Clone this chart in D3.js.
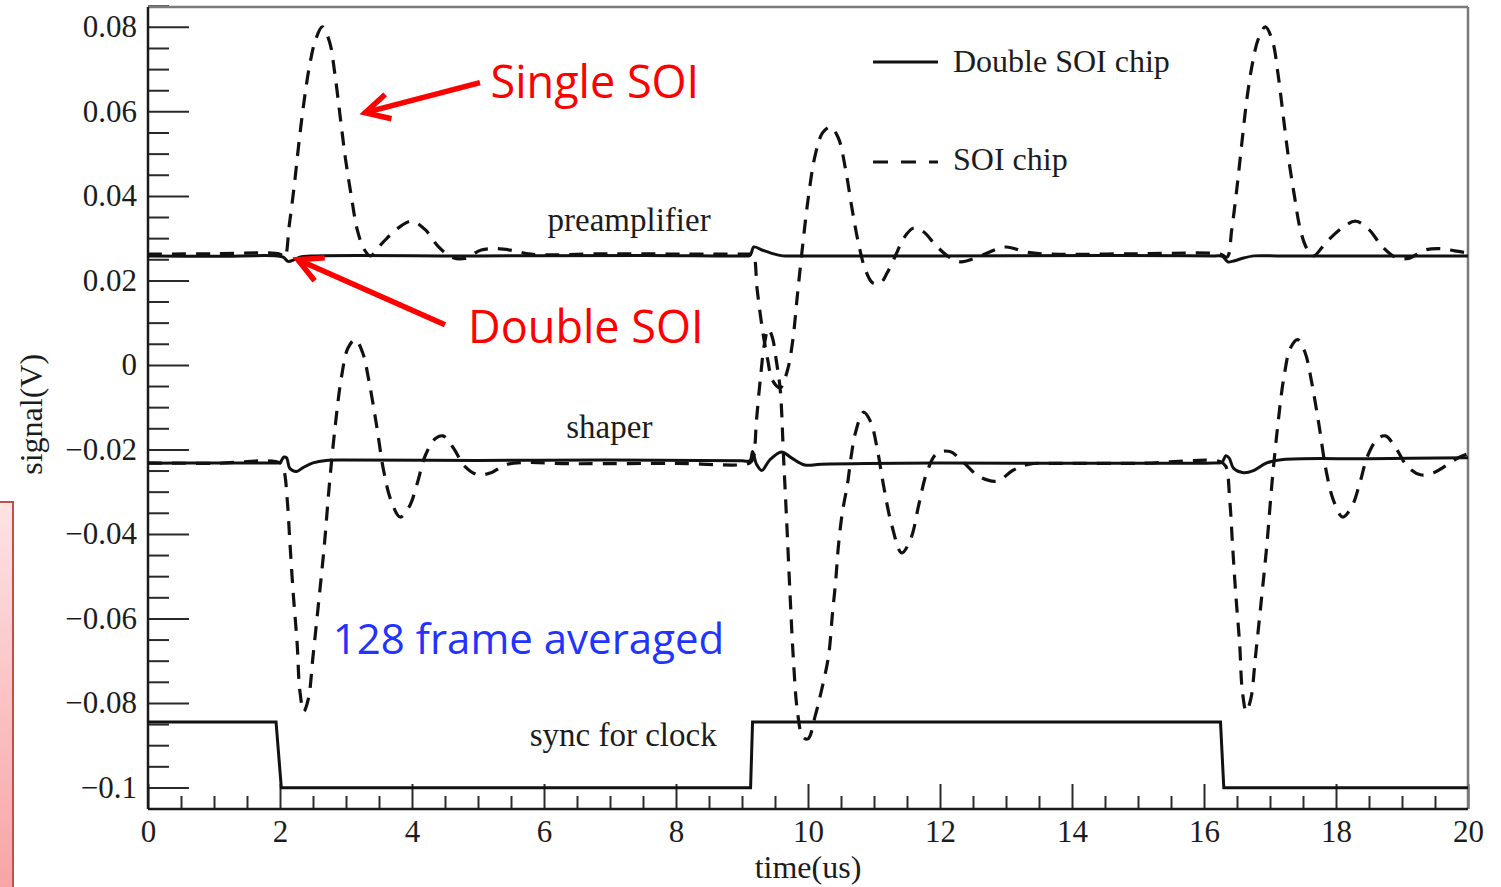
<!DOCTYPE html>
<html>
<head>
<meta charset="utf-8">
<script src="https://cdn.jsdelivr.net/npm/d3@7"></script>
<style>
  html, body { margin: 0; padding: 0; background: #fff; }
  svg { display: block; }
  .serif { font-family: "Liberation Serif", "DejaVu Serif", serif; fill: #1c1c1c; }
</style>
</head>
<body>
<div id="chart"></div>
<script>
// ---- data: [time (us), signal (V)] ----
const soiPreamp = [
  [0, 0.0262], [1.0, 0.0263], [2.0, 0.0262],
  [2.07, 0.0255], [2.14, 0.033], [2.22, 0.043], [2.29, 0.053], [2.37, 0.063], [2.45, 0.071],
  [2.54, 0.077], [2.64, 0.080], [2.75, 0.0765], [2.83, 0.069], [2.91, 0.059], [2.99, 0.049],
  [3.08, 0.040], [3.17, 0.032], [3.27, 0.0275], [3.37, 0.0258], [3.56, 0.029], [3.8, 0.0325],
  [4.0, 0.034], [4.2, 0.032], [4.4, 0.028], [4.6, 0.0255], [4.8, 0.0252], [5.05, 0.0272],
  [5.3, 0.0275], [5.55, 0.027], [5.8, 0.0262], [7.0, 0.0263], [8.5, 0.0262], [9.12, 0.0262],
  [9.17, 0.0262], [9.23, 0.0178], [9.31, 0.0083], [9.39, 0.0012], [9.46, -0.0036], [9.58, -0.0054],
  [9.69, -0.0012], [9.77, 0.0059], [9.84, 0.0166], [9.92, 0.0284], [10.01, 0.0402], [10.11, 0.0497],
  [10.22, 0.0549], [10.34, 0.0563], [10.46, 0.0537], [10.57, 0.0462], [10.67, 0.0367], [10.77, 0.0284],
  [10.87, 0.0225], [10.98, 0.0194], [11.1, 0.0194], [11.2, 0.0218], [11.33, 0.026], [11.45, 0.030],
  [11.6, 0.0324], [11.75, 0.0315], [11.93, 0.0284], [12.13, 0.0256], [12.31, 0.0244], [12.54, 0.0253],
  [12.99, 0.0279], [13.3, 0.0267], [13.7, 0.0262], [15.0, 0.0263], [16.25, 0.0262],
  [16.35, 0.0255], [16.42, 0.032], [16.5, 0.042], [16.57, 0.052], [16.65, 0.063], [16.73, 0.071],
  [16.82, 0.077], [16.93, 0.080], [17.04, 0.0765], [17.12, 0.069], [17.2, 0.059], [17.28, 0.049],
  [17.37, 0.040], [17.46, 0.032], [17.56, 0.0275], [17.66, 0.0258], [17.85, 0.029], [18.1, 0.0325],
  [18.3, 0.034], [18.5, 0.032], [18.7, 0.028], [18.9, 0.0255], [19.1, 0.0252], [19.35, 0.0272],
  [19.6, 0.0275], [19.8, 0.027], [20, 0.0265]
];

const soiShaper = [
  [0, -0.0232], [1.0, -0.0233], [2.0, -0.0232],
  [2.06, -0.025], [2.11, -0.032], [2.15, -0.042], [2.2, -0.054], [2.26, -0.066], [2.3, -0.077],
  [2.36, -0.082], [2.43, -0.079], [2.5, -0.069], [2.58, -0.057], [2.67, -0.043], [2.75, -0.028],
  [2.84, -0.014], [2.93, -0.003], [3.03, 0.004], [3.14, 0.006], [3.25, 0.003], [3.35, -0.004],
  [3.46, -0.014], [3.57, -0.025], [3.68, -0.032], [3.82, -0.036], [3.96, -0.0335], [4.08, -0.028],
  [4.2, -0.0215], [4.35, -0.0175], [4.47, -0.0168], [4.62, -0.0195], [4.8, -0.024], [5.0, -0.026],
  [5.2, -0.0255], [5.45, -0.0235], [6.5, -0.0234], [8.0, -0.0233], [9.12, -0.0232],
  [9.17, -0.022], [9.22, -0.013], [9.28, -0.003], [9.34, 0.005], [9.40, 0.0085], [9.46, 0.0065],
  [9.52, 0.001], [9.58, -0.006], [9.63, -0.022], [9.68, -0.038], [9.73, -0.055], [9.78, -0.070],
  [9.84, -0.082], [9.92, -0.088], [10.0, -0.0885], [10.11, -0.083], [10.19, -0.078], [10.31, -0.069],
  [10.37, -0.059], [10.42, -0.051], [10.46, -0.043], [10.52, -0.035], [10.6, -0.028], [10.66, -0.021],
  [10.72, -0.016], [10.84, -0.0112], [10.95, -0.0135], [11.05, -0.020], [11.15, -0.029], [11.27, -0.038],
  [11.42, -0.0445], [11.56, -0.041], [11.68, -0.033], [11.8, -0.0255], [11.95, -0.021], [12.15, -0.0205],
  [12.35, -0.023], [12.6, -0.0265], [12.87, -0.0275], [13.1, -0.025], [13.35, -0.0235], [13.8, -0.0233],
  [15.0, -0.0233], [16.25, -0.0229],
  [16.33, -0.024], [16.39, -0.032], [16.43, -0.042], [16.48, -0.054], [16.54, -0.066], [16.58, -0.077],
  [16.64, -0.082], [16.71, -0.079], [16.78, -0.069], [16.86, -0.057], [16.95, -0.043], [17.03, -0.028],
  [17.12, -0.014], [17.21, -0.003], [17.31, 0.004], [17.42, 0.006], [17.53, 0.003], [17.63, -0.004],
  [17.74, -0.014], [17.85, -0.025], [17.96, -0.032], [18.1, -0.036], [18.24, -0.0335], [18.36, -0.028],
  [18.48, -0.0215], [18.63, -0.0175], [18.75, -0.0168], [18.9, -0.0195], [19.08, -0.024], [19.28, -0.026],
  [19.48, -0.0255], [19.7, -0.0235], [19.85, -0.022], [20, -0.021]
];

const doublePreamp = [
  [0, 0.0258], [1.0, 0.0257], [1.95, 0.0258], [2.05, 0.0255], [2.12, 0.0245], [2.2, 0.0248],
  [2.3, 0.0255], [2.5, 0.0258], [5.0, 0.0258], [7.5, 0.0259], [9.0, 0.0258], [9.12, 0.0259], [9.18, 0.0279],
  [9.3, 0.0272], [9.45, 0.0264], [9.62, 0.0258], [9.9, 0.0258], [12.0, 0.0258], [14.5, 0.0259], [16.15, 0.0258],
  [16.28, 0.0257], [16.36, 0.0244], [16.45, 0.0246], [16.6, 0.0253], [16.76, 0.0258], [17.1, 0.0258],
  [18.5, 0.0258], [20, 0.0258]
];

const doubleShaper = [
  [0, -0.0233], [1.0, -0.0232], [1.95, -0.0232], [2.0, -0.0231], [2.06, -0.0218], [2.1, -0.022], [2.15, -0.0245],
  [2.25, -0.0252], [2.35, -0.0243], [2.5, -0.0232], [2.7, -0.0226], [3.0, -0.0225], [5.0, -0.0226],
  [7.0, -0.0225], [9.0, -0.0227], [9.12, -0.0227], [9.16, -0.0205], [9.22, -0.0235], [9.3, -0.025], [9.42, -0.0225],
  [9.6, -0.0206], [9.75, -0.022], [9.95, -0.0237], [10.2, -0.0235], [12.0, -0.0232], [14.0, -0.0233],
  [16.15, -0.0232], [16.27, -0.0231], [16.33, -0.0215], [16.38, -0.022], [16.45, -0.0245], [16.6, -0.0255], [16.75, -0.025],
  [16.95, -0.0232], [17.2, -0.0224], [18.5, -0.0222], [20, -0.022]
];

const syncClock = [
  [0, -0.0845], [1.94, -0.0845], [2.02, -0.1001], [9.13, -0.1001], [9.16, -0.0845],
  [16.25, -0.0845], [16.3, -0.1001], [20, -0.1001]
];

const xMajorTicks = [0, 2, 4, 6, 8, 10, 12, 14, 16, 18, 20];
const xTickLabels = ["0", "2", "4", "6", "8", "10", "12", "14", "16", "18", "20"];
const yMajorTicks = [0.08, 0.06, 0.04, 0.02, 0, -0.02, -0.04, -0.06, -0.08, -0.1];
const yTickLabels = ["0.08", "0.06", "0.04", "0.02", "0", "\u22120.02", "\u22120.04", "\u22120.06", "\u22120.08", "\u22120.1"];

const legendNames = ["Double SOI chip", "SOI chip"];
const curveLabels = [
  { text: "preamplifier", t: 7.29, v: 0.0318 },
  { text: "shaper", t: 6.99, v: -0.0174 },
  { text: "sync for clock", t: 7.2, v: -0.0902 }
];

// ---- layout ----
const W = 1501, H = 887;
const margin = { top: 7, right: 33, bottom: 78, left: 148 };
const width = W - margin.left - margin.right;
const height = H - margin.top - margin.bottom;

const x = d3.scaleLinear().domain([0, 20]).range([0, width]);
const y = d3.scaleLinear().domain([-0.1051, 0.0847]).range([height, 0]);

const svg = d3.select("#chart").append("svg")
  .attr("width", W).attr("height", H);

// pink box on the left edge (from the slide)
const grad = svg.append("defs").append("linearGradient")
  .attr("id", "pink").attr("x1", 0).attr("y1", 0).attr("x2", 0).attr("y2", 1);
grad.append("stop").attr("offset", "0%").attr("stop-color", "#fde3e3");
grad.append("stop").attr("offset", "100%").attr("stop-color", "#f7a2a2");
svg.append("rect")
  .attr("x", -4).attr("y", 502).attr("width", 17).attr("height", 400)
  .attr("fill", "url(#pink)").attr("stroke", "#c0504d").attr("stroke-width", 2);

const g = svg.append("g").attr("transform", `translate(${margin.left},${margin.top})`);

// minor ticks
const yMinor = d3.range(-0.1, 0.0851, 0.005).filter(v => Math.abs(Math.round(v / 0.02) * 0.02 - v) > 1e-6);
const xMinor = d3.range(0, 20.01, 0.5).filter(v => v % 2 !== 0);

const yAxisMinor = g.append("g")
  .call(d3.axisLeft(y).tickValues(yMinor).tickSize(-21).tickSizeOuter(0).tickFormat(""));
const yAxis = g.append("g")
  .call(d3.axisLeft(y).tickValues(yMajorTicks).tickSize(-41).tickSizeOuter(0).tickPadding(11)
    .tickFormat((d, i) => yTickLabels[i]));
const xAxisMinor = g.append("g").attr("transform", `translate(0,${height})`)
  .call(d3.axisBottom(x).tickValues(xMinor).tickSize(-13).tickSizeOuter(0).tickFormat(""));
const xAxis = g.append("g").attr("transform", `translate(0,${height})`)
  .call(d3.axisBottom(x).tickValues(xMajorTicks).tickSize(-25).tickSizeOuter(0).tickPadding(11)
    .tickFormat((d, i) => xTickLabels[i]));

[yAxisMinor, yAxis, xAxisMinor, xAxis].forEach(a => {
  a.select(".domain").remove();
  a.selectAll(".tick line").attr("stroke", "#2a2a2a").attr("stroke-width", 2);
  a.selectAll(".tick text").attr("class", "serif").style("font-size", "31px").attr("fill", "#1c1c1c");
});

// frame
g.append("line").attr("x1", 0).attr("x2", width).attr("y1", 0).attr("y2", 0)
  .attr("stroke", "#7a7a7a").attr("stroke-width", 2.5);
g.append("line").attr("x1", width).attr("x2", width).attr("y1", 0).attr("y2", height)
  .attr("stroke", "#7a7a7a").attr("stroke-width", 2.5);
g.append("line").attr("x1", 0).attr("x2", 0).attr("y1", 0).attr("y2", height)
  .attr("stroke", "#1a1a1a").attr("stroke-width", 2.5);
g.append("line").attr("x1", 0).attr("x2", width).attr("y1", height).attr("y2", height)
  .attr("stroke", "#1a1a1a").attr("stroke-width", 2.5);

// curves
const smooth = d3.line().x(d => x(d[0])).y(d => y(d[1])).curve(d3.curveCatmullRom.alpha(0.5));
const straight = d3.line().x(d => x(d[0])).y(d => y(d[1]));

g.append("path").datum(soiPreamp).attr("d", smooth)
  .attr("fill", "none").attr("stroke", "#111").attr("stroke-width", 3.2).attr("stroke-dasharray", "14,10");
g.append("path").datum(soiShaper).attr("d", smooth)
  .attr("fill", "none").attr("stroke", "#111").attr("stroke-width", 3.2).attr("stroke-dasharray", "14,10");
g.append("path").datum(doublePreamp).attr("d", smooth)
  .attr("fill", "none").attr("stroke", "#111").attr("stroke-width", 3);
g.append("path").datum(doubleShaper).attr("d", smooth)
  .attr("fill", "none").attr("stroke", "#111").attr("stroke-width", 3);
g.append("path").datum(syncClock).attr("d", straight)
  .attr("fill", "none").attr("stroke", "#111").attr("stroke-width", 3);

// curve labels
g.selectAll("text.curve-label")
  .data(curveLabels)
  .join("text")
  .attr("class", "serif curve-label")
  .attr("x", d => x(d.t)).attr("y", d => y(d.v))
  .attr("text-anchor", "middle")
  .style("font-size", "33px")
  .text(d => d.text);

// legend
const legend = g.append("g").attr("transform", "translate(725,55)");
legend.append("line").attr("x1", 0).attr("x2", 65).attr("y1", 0).attr("y2", 0)
  .attr("stroke", "#111").attr("stroke-width", 3);
legend.append("line").attr("x1", 0).attr("x2", 65).attr("y1", 100).attr("y2", 100)
  .attr("stroke", "#111").attr("stroke-width", 3).attr("stroke-dasharray", "15,13");
legend.selectAll("text")
  .data(legendNames)
  .join("text")
  .attr("class", "serif")
  .attr("x", 80).attr("y", (d, i) => 10 + i * 98)
  .style("font-size", "32px")
  .text(d => d);

// axis titles
svg.append("text").attr("class", "serif")
  .attr("x", margin.left + x(10)).attr("y", 878)
  .attr("text-anchor", "middle").style("font-size", "32px")
  .text("time(us)");
svg.append("text").attr("class", "serif")
  .attr("transform", `translate(42,${margin.top + y(-0.0117)}) rotate(-90)`)
  .attr("text-anchor", "middle").style("font-size", "32px")
  .text("signal(V)");

// annotations (slide overlay)
const notes = [
  { text: "Single SOI", t: 5.19, v: 0.0632, color: "#ff0000", size: 45 },
  { text: "Double SOI", t: 4.85, v: 0.0052, color: "#ff0000", size: 45 },
  { text: "128 frame averaged", t: 2.8, v: -0.0685, color: "#2233ff", size: 42 }
];
const arrows = [
  { from: [5.03, 0.0668], to: [3.29, 0.0597] },
  { from: [4.5, 0.0095], to: [2.27, 0.0249] }
];

g.selectAll("text.note")
  .data(notes)
  .join("text")
  .attr("class", "note")
  .attr("x", d => x(d.t)).attr("y", d => y(d.v))
  .style("font-family", "'Open Sans', 'Noto Sans', sans-serif")
  .style("font-size", d => d.size + "px")
  .attr("fill", d => d.color)
  .text(d => d.text);

arrows.forEach(a => {
  const x1 = x(a.from[0]), y1 = y(a.from[1]);
  const x2 = x(a.to[0]), y2 = y(a.to[1]);
  const ang = Math.atan2(y1 - y2, x1 - x2);
  const L = 27, spread = Math.PI / 6.5;
  g.append("line").attr("x1", x1).attr("y1", y1).attr("x2", x2 + 2 * Math.cos(ang)).attr("y2", y2 + 2 * Math.sin(ang))
    .attr("stroke", "#ff0000").attr("stroke-width", 5.5);
  const head = [
    [x2 + L * Math.cos(ang - spread), y2 + L * Math.sin(ang - spread)],
    [x2, y2],
    [x2 + L * Math.cos(ang + spread), y2 + L * Math.sin(ang + spread)]
  ];
  g.append("path").attr("d", d3.line()(head))
    .attr("fill", "none").attr("stroke", "#ff0000").attr("stroke-width", 5.5)
    .attr("stroke-linejoin", "miter").attr("stroke-linecap", "butt");
});
</script>
</body>
</html>
